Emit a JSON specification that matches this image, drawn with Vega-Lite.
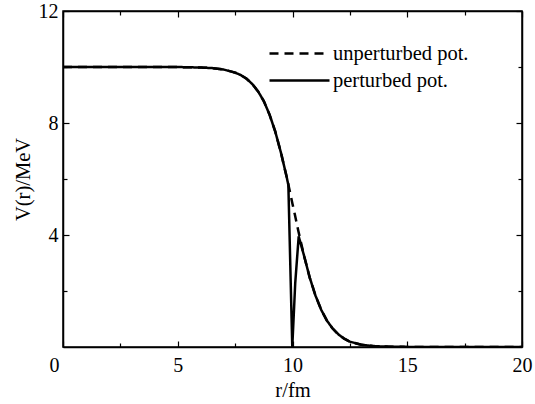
{
  "$schema": "https://vega.github.io/schema/vega-lite/v6.json",
  "width": 459,
  "height": 336,
  "autosize": "none",
  "padding": {"left": 63, "top": 11, "right": 13, "bottom": 57},
  "background": "white",
  "config": {
    "view": {"stroke": "black", "strokeWidth": 1.5},
    "font": "Liberation Serif",
    "axis": {
      "domainColor": "black", "domainWidth": 1.5,
      "tickColor": "black", "tickWidth": 1.2,
      "labelColor": "black", "titleColor": "black",
      "labelFont": "Liberation Serif", "titleFont": "Liberation Serif",
      "labelFontSize": 20, "titleFontSize": 20.5, "titleFontWeight": "normal",
      "grid": false, "labelOverlap": false, "labelFlush": false, "labelBound": false
    },
    "legend": {
      "orient": "none", "legendX": 220, "legendY": 26,
      "symbolType": "M-2,0H2", "symbolSize": 900, "symbolStrokeWidth": 2.5,
      "symbolStrokeColor": "black", "symbolFillColor": "transparent",
      "labelFontSize": 20.5, "labelFont": "Liberation Serif",
      "labelColor": "black", "labelOffset": 17, "rowPadding": 0, "padding": 0
    }
  },
  "data": {"values": [
    {"r": 0, "V": 10, "series": "unperturbed pot."},
    {"r": 1, "V": 10, "series": "unperturbed pot."},
    {"r": 2, "V": 10, "series": "unperturbed pot."},
    {"r": 3, "V": 10, "series": "unperturbed pot."},
    {"r": 4, "V": 10, "series": "unperturbed pot."},
    {"r": 5, "V": 10, "series": "unperturbed pot."},
    {"r": 5.5, "V": 9.99, "series": "unperturbed pot."},
    {"r": 6, "V": 9.98, "series": "unperturbed pot."},
    {"r": 6.5, "V": 9.96, "series": "unperturbed pot."},
    {"r": 7, "V": 9.91, "series": "unperturbed pot."},
    {"r": 7.5, "V": 9.8, "series": "unperturbed pot."},
    {"r": 7.75, "V": 9.71, "series": "unperturbed pot."},
    {"r": 8, "V": 9.58, "series": "unperturbed pot."},
    {"r": 8.25, "V": 9.39, "series": "unperturbed pot."},
    {"r": 8.5, "V": 9.13, "series": "unperturbed pot."},
    {"r": 8.75, "V": 8.78, "series": "unperturbed pot."},
    {"r": 9, "V": 8.3, "series": "unperturbed pot."},
    {"r": 9.25, "V": 7.69, "series": "unperturbed pot."},
    {"r": 9.5, "V": 6.93, "series": "unperturbed pot."},
    {"r": 9.75, "V": 6.06, "series": "unperturbed pot."},
    {"r": 9.85, "V": 5.69, "series": "unperturbed pot."},
    {"r": 10, "V": 5.11, "series": "unperturbed pot."},
    {"r": 10.1, "V": 4.74, "series": "unperturbed pot."},
    {"r": 10.25, "V": 4.16, "series": "unperturbed pot."},
    {"r": 10.5, "V": 3.27, "series": "unperturbed pot."},
    {"r": 10.75, "V": 2.48, "series": "unperturbed pot."},
    {"r": 11, "V": 1.84, "series": "unperturbed pot."},
    {"r": 11.25, "V": 1.33, "series": "unperturbed pot."},
    {"r": 11.5, "V": 0.94, "series": "unperturbed pot."},
    {"r": 11.75, "V": 0.66, "series": "unperturbed pot."},
    {"r": 12, "V": 0.45, "series": "unperturbed pot."},
    {"r": 12.25, "V": 0.3, "series": "unperturbed pot."},
    {"r": 12.5, "V": 0.19, "series": "unperturbed pot."},
    {"r": 13, "V": 0.08, "series": "unperturbed pot."},
    {"r": 13.5, "V": 0.035, "series": "unperturbed pot."},
    {"r": 14, "V": 0.015, "series": "unperturbed pot."},
    {"r": 15, "V": 0.003, "series": "unperturbed pot."},
    {"r": 16, "V": 0, "series": "unperturbed pot."},
    {"r": 18, "V": 0, "series": "unperturbed pot."},
    {"r": 20, "V": 0, "series": "unperturbed pot."},
    {"r": 0, "V": 10, "series": "perturbed pot."},
    {"r": 1, "V": 10, "series": "perturbed pot."},
    {"r": 2, "V": 10, "series": "perturbed pot."},
    {"r": 3, "V": 10, "series": "perturbed pot."},
    {"r": 4, "V": 10, "series": "perturbed pot."},
    {"r": 5, "V": 10, "series": "perturbed pot."},
    {"r": 5.5, "V": 9.99, "series": "perturbed pot."},
    {"r": 6, "V": 9.98, "series": "perturbed pot."},
    {"r": 6.5, "V": 9.96, "series": "perturbed pot."},
    {"r": 7, "V": 9.91, "series": "perturbed pot."},
    {"r": 7.5, "V": 9.8, "series": "perturbed pot."},
    {"r": 7.75, "V": 9.71, "series": "perturbed pot."},
    {"r": 8, "V": 9.58, "series": "perturbed pot."},
    {"r": 8.25, "V": 9.39, "series": "perturbed pot."},
    {"r": 8.5, "V": 9.13, "series": "perturbed pot."},
    {"r": 8.75, "V": 8.78, "series": "perturbed pot."},
    {"r": 9, "V": 8.3, "series": "perturbed pot."},
    {"r": 9.25, "V": 7.69, "series": "perturbed pot."},
    {"r": 9.5, "V": 6.93, "series": "perturbed pot."},
    {"r": 9.75, "V": 6.06, "series": "perturbed pot."},
    {"r": 9.82, "V": 5.78, "series": "perturbed pot."},
    {"r": 9.99, "V": 0, "series": "perturbed pot."},
    {"r": 10.12, "V": 2.3, "series": "perturbed pot."},
    {"r": 10.27, "V": 3.95, "series": "perturbed pot."},
    {"r": 10.5, "V": 3.27, "series": "perturbed pot."},
    {"r": 10.75, "V": 2.48, "series": "perturbed pot."},
    {"r": 11, "V": 1.84, "series": "perturbed pot."},
    {"r": 11.25, "V": 1.33, "series": "perturbed pot."},
    {"r": 11.5, "V": 0.94, "series": "perturbed pot."},
    {"r": 11.75, "V": 0.66, "series": "perturbed pot."},
    {"r": 12, "V": 0.45, "series": "perturbed pot."},
    {"r": 12.25, "V": 0.3, "series": "perturbed pot."},
    {"r": 12.5, "V": 0.19, "series": "perturbed pot."},
    {"r": 13, "V": 0.08, "series": "perturbed pot."},
    {"r": 13.5, "V": 0.035, "series": "perturbed pot."},
    {"r": 14, "V": 0.015, "series": "perturbed pot."},
    {"r": 15, "V": 0.003, "series": "perturbed pot."},
    {"r": 16, "V": 0, "series": "perturbed pot."},
    {"r": 18, "V": 0, "series": "perturbed pot."},
    {"r": 20, "V": 0, "series": "perturbed pot."}
  ]},
  "layer": [
    {
      "mark": {"type": "line", "strokeWidth": 2.5, "color": "black", "clip": true},
      "encoding": {
        "x": {
          "field": "r", "type": "quantitative",
          "scale": {"domain": [0, 20], "nice": false, "zero": false},
          "axis": {
            "orient": "bottom",
            "values": [0, 2.5, 5, 7.5, 10, 12.5, 15, 17.5, 20],
            "format": "~g",
            "labelExpr": "datum.value % 5 === 0 ? datum.label : ''",
            "tickSize": {"condition": {"test": "datum.value % 5 === 0", "value": -6}, "value": -4},
            "labelPadding": 14,
            "labelOffset": {"condition": {"test": "datum.value === 0", "value": -9}, "value": 0},
            "title": "r/fm",
            "titlePadding": 3
          }
        },
        "y": {
          "field": "V", "type": "quantitative",
          "scale": {"domain": [0, 12], "nice": false, "zero": false},
          "axis": {
            "orient": "left",
            "values": [2, 4, 6, 8, 10, 12],
            "format": "~g",
            "labelExpr": "datum.value % 4 === 0 ? datum.label : ''",
            "tickSize": {"condition": {"test": "datum.value % 4 === 0", "value": -6}, "value": -4},
            "labelPadding": 11,
            "title": "V(r)/MeV",
            "titlePadding": 5
          }
        },
        "strokeDash": {
          "field": "series", "type": "nominal",
          "scale": {"domain": ["unperturbed pot.", "perturbed pot."], "range": [[9, 6], [1, 0]]},
          "legend": {"title": null}
        }
      }
    },
    {
      "mark": {"type": "line", "opacity": 0},
      "encoding": {
        "x": {
          "field": "r", "type": "quantitative",
          "scale": {"domain": [0, 20], "nice": false, "zero": false},
          "axis": {
            "orient": "top",
            "values": [0, 2.5, 5, 7.5, 10, 12.5, 15, 17.5, 20],
            "labels": false, "title": null,
            "tickSize": {"condition": {"test": "datum.value % 5 === 0", "value": -6}, "value": -4}
          }
        },
        "y": {
          "field": "V", "type": "quantitative",
          "scale": {"domain": [0, 12], "nice": false, "zero": false},
          "axis": {
            "orient": "right",
            "values": [2, 4, 6, 8, 10, 12],
            "labels": false, "title": null,
            "tickSize": {"condition": {"test": "datum.value % 4 === 0", "value": -6}, "value": -4}
          }
        },
        "detail": {"field": "series"}
      }
    }
  ],
  "resolve": {"axis": {"x": "independent", "y": "independent"}}
}
